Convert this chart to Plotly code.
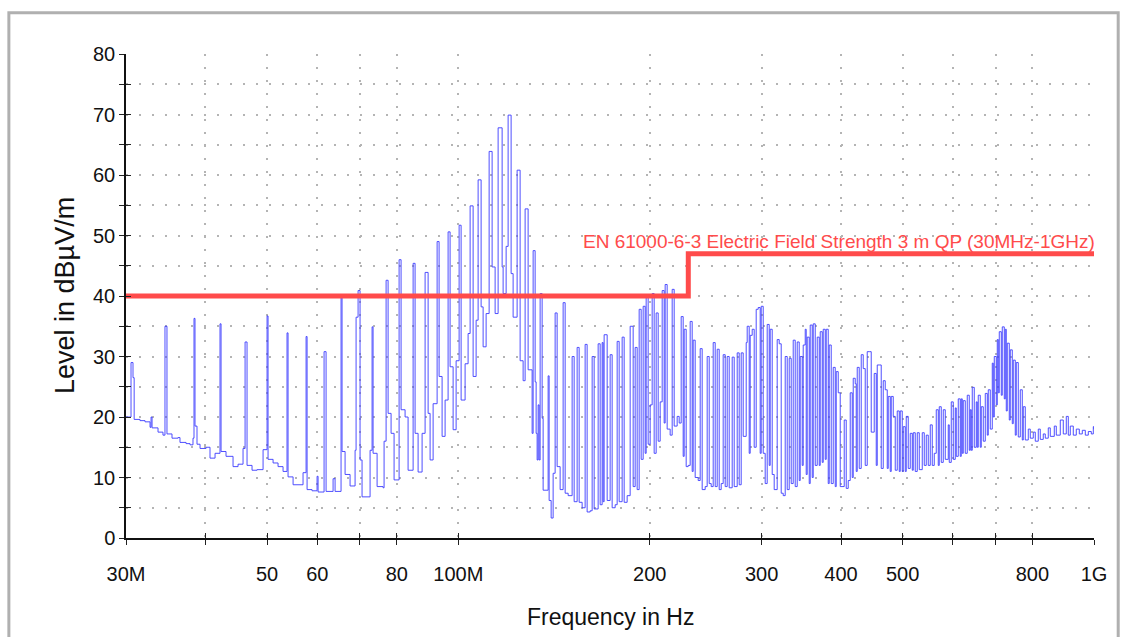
import plotly.graph_objects as go

scan_freq_a = [30.0, 30.55, 30.77, 30.9, 31.56, 32.14, 32.73, 32.85, 32.97, 33.69, 34.3, 34.55, 34.8,
               35.44, 36.22, 36.48, 37.29, 37.83, 38.24, 38.38, 38.52, 38.8, 39.23, 40.09, 40.67, 41.42,
               42.17, 42.33, 43.1, 44.21, 45.02, 45.84, 46.18, 46.51, 47.36, 48.23, 49.29, 50.01, 50.19,
               51.11, 52.04, 52.99, 53.76, 53.96, 54.95, 56.97, 57.6, 57.81, 58.86, 59.94, 60.16, 61.48,
               61.93, 63.52, 63.98, 65.38, 65.62, 66.34]
scan_level_a = [20.0, 29.0, 26.5, 19.6, 19.4, 19.2, 18.3, 20.0, 18.2, 17.5, 17.0, 35.0, 17.2,
                16.5, 16.6, 15.8, 15.6, 15.4, 16.5, 36.3, 18.5, 15.5, 14.8, 15.0, 13.2, 14.0,
                35.4, 14.3, 13.5, 11.8, 12.2, 14.8, 32.4, 12.0, 11.2, 11.3, 14.6, 36.7, 13.0,
                12.4, 11.8, 11.0, 33.9, 10.1, 8.8, 10.8, 33.3, 8.0, 7.8, 10.2, 7.6, 30.8,
                7.7, 9.8, 7.7, 39.9, 14.3, 10.5]

scan_freq_b = [67.55, 68.79, 69.04, 69.54, 70.04, 70.55, 71.84, 72.63, 73.16, 73.42, 74.5, 76.13, 76.41,
               76.97, 77.53, 78.37, 79.23, 80.68, 81.26, 82.45, 83.35, 84.88, 85.49, 86.43, 87.69, 88.65,
               89.62, 90.27, 91.26, 92.59, 93.26, 94.28, 95.31, 96.35, 97.05, 98.12, 99.19, 100.27, 101.0,
               102.47, 103.59, 104.35, 105.49, 106.64, 107.42, 108.59, 109.38, 110.58, 111.79, 113.01,
               114.24, 115.49, 117.18, 117.6, 118.89, 119.75, 121.06, 121.94, 123.72, 125.07, 126.44,
               127.36, 128.75, 130.63, 131.11, 132.06, 132.54, 133.02, 133.51, 133.99, 134.48, 135.45,
               135.95, 138.43, 138.93, 139.95, 140.96, 141.99, 143.02, 144.58]
scan_level_b = [8.6, 14.5, 36.5, 40.9, 12.9, 6.8, 6.8, 14.5, 34.9, 14.0, 8.5, 8.3, 16.0,
                42.6, 20.6, 17.3, 9.6, 46.0, 21.2, 20.0, 11.2, 45.4, 17.3, 10.9, 17.3, 43.9,
                20.6, 12.9, 22.2, 49.0, 26.7, 16.8, 22.8, 50.6, 28.3, 17.9, 29.3, 51.7, 22.8,
                28.8, 33.8, 54.9, 26.7, 36.0, 59.2, 38.2, 31.6, 37.1, 63.9, 44.8,
                37.1, 67.8, 44.8, 40.4, 48.2, 69.9, 43.7, 36.5, 60.8, 29.3, 26.0,
                54.4, 27.8, 17.3, 47.5, 25.8, 17.3, 12.9, 22.0, 12.9, 40.4, 19.8,
                7.9, 26.8, 6.2, 3.3, 10.7, 37.2, 11.8, 8.0]

scan_freq_c = [146.16, 147.23, 148.84, 151.01, 152.11, 153.77, 154.89, 156.58, 158.29, 159.44, 161.19,
               162.36, 163.54, 165.93, 167.14, 168.35, 168.96, 169.57, 171.43, 173.3, 174.56, 176.47,
               177.76, 179.05, 181.0, 182.32, 184.31, 186.33, 188.37, 189.73, 191.11, 192.51, 193.91,
               195.32, 196.74, 197.45, 198.89, 200.33, 201.79, 203.26, 204.74, 206.23, 207.73, 209.24,
               210.76, 211.52, 213.06, 215.39, 216.96, 218.54, 220.92, 222.53, 224.15, 225.78, 226.6,
               228.25, 229.91, 231.58, 233.26, 234.11, 235.81, 238.39, 240.13, 241.87, 244.51, 246.29,
               248.09, 249.89, 251.71, 253.54, 255.38, 257.24, 259.11, 260.99, 262.89, 264.81, 266.73]
scan_level_c = [38.9, 7.4, 7.0, 30.0, 6.0, 31.5, 5.9, 5.0, 32.0, 4.3, 4.5,
                30.0, 4.8, 32.1, 5.5, 32.3, 6.0, 33.6, 6.2, 30.3, 5.0, 5.5,
                32.5, 6.0, 33.2, 5.9, 7.0, 35.0, 8.5, 31.5, 8.0, 37.8, 13.0,
                38.3, 14.0, 39.8, 15.5, 22.0, 40.4, 14.0, 37.2, 16.0, 22.5, 40.9,
                19.0, 41.9, 18.0, 17.0, 41.1, 18.5, 20.1, 19.0, 36.6, 13.5, 34.5,
                11.8, 12.0, 35.8, 11.0, 32.7, 10.0, 9.5, 31.3, 8.0, 8.5, 30.0,
                9.0, 8.5, 32.3, 8.5, 31.2, 8.0, 9.0, 30.3, 8.5, 30.0, 8.3]

scan_freq_d = [269.65, 271.61, 274.58, 276.58, 278.59, 280.61, 283.68, 284.71, 286.78, 287.82, 289.91,
               292.02, 294.15, 296.29, 298.44, 299.53, 301.71, 303.9, 306.11, 308.34, 309.45, 311.71,
               313.97, 317.4, 319.71, 322.04, 324.38, 326.74, 329.12, 331.51, 333.92, 336.35, 338.8,
               341.26, 343.74, 344.99, 347.5, 348.76, 351.3, 352.57, 353.85, 356.43, 357.72, 360.32,
               361.63, 364.26, 366.91, 369.58, 370.92, 373.62, 374.97, 377.7, 379.07, 381.83, 383.22,
               386.01, 388.82, 391.64, 393.06, 395.92, 398.8, 404.62, 407.57, 410.53, 413.52, 416.52,
               418.04, 421.07, 422.6, 424.14, 427.22, 430.33, 433.46, 436.61, 439.79, 442.99, 446.21,
               451.08, 454.37, 456.02, 459.33, 462.67, 466.04, 469.42, 472.84, 474.56, 478.01, 479.75,
               483.24, 486.75, 490.29, 493.86, 495.65, 499.26, 501.07, 504.71, 506.54, 510.23, 513.94,
               517.68, 519.56, 523.33, 527.14]
scan_level_d = [29.9, 8.5, 30.6, 8.8, 30.6, 16.8, 32.3, 35.0, 14.0, 33.5, 34.5,
                15.0, 37.8, 38.1, 14.0, 38.3, 14.0, 9.0, 35.3, 12.0, 34.5, 10.5,
                8.0, 32.8, 32.1, 7.4, 7.0, 30.0, 8.0, 29.7, 9.0, 32.7, 8.5,
                32.4, 9.5, 30.0, 12.0, 31.9, 34.5, 10.5, 33.2, 9.0, 35.2, 10.0,
                35.4, 12.0, 33.2, 12.0, 34.1, 12.5, 34.5, 13.0, 34.5, 9.0, 31.9,
                9.0, 28.2, 8.5, 27.5, 24.0, 8.5, 19.5, 8.2, 9.5, 24.0, 10.0,
                26.4, 25.5, 11.0, 28.2, 11.5, 30.3, 28.0, 12.0, 30.8, 30.8, 17.5,
                27.2, 12.0, 28.6, 28.6, 11.5, 26.0, 24.5, 11.5, 23.4, 11.0, 23.4,
                20.1, 11.2, 21.0, 11.0, 21.0, 11.0, 18.4, 11.0, 20.1, 11.5, 17.3,
                11.2, 17.4, 11.0, 17.4]

scan_freq_e = [530.98, 536.78, 540.68, 544.62, 548.58, 552.57, 556.59, 560.63, 564.71, 568.82, 570.89,
               575.04, 579.22, 583.43, 589.81, 591.95, 596.26, 600.59, 604.96, 607.16, 611.57, 616.02,
               618.26, 620.5, 622.76, 627.29, 631.85, 636.44, 638.76, 641.08, 643.4, 648.08, 652.79,
               655.16, 657.54, 662.33, 664.73, 669.57, 674.43, 679.34, 681.81, 686.76, 691.76, 694.27,
               696.79, 701.86, 704.41, 706.96, 709.53, 714.69, 717.29, 722.5, 725.13, 727.76, 730.4,
               735.71, 738.38, 743.75, 746.46, 751.88, 754.61, 760.1, 765.62, 771.19, 773.99, 779.62,
               788.15, 793.88, 802.55, 808.39, 817.23, 823.17, 832.17, 838.22, 847.38, 853.54, 866.02,
               872.31, 885.04, 894.72, 904.5, 911.08, 917.7, 927.74, 937.87, 948.13, 958.5, 968.97,
               979.55, 990.26, 997.47, 1000.0]
scan_level_e = [11.3, 17.4, 12.0, 17.0, 12.0, 18.7, 12.0, 14.0, 21.2, 12.0, 21.7,
                12.5, 21.2, 13.0, 18.7, 12.5, 22.5, 13.0, 21.5, 13.5, 23.0, 13.5,
                23.0, 14.0, 22.7, 14.0, 23.6, 14.5, 21.2, 14.5, 24.9, 15.0, 22.5,
                15.0, 23.6, 15.0, 21.7, 16.0, 23.9, 17.0, 24.5, 18.0, 28.9, 20.0,
                30.0, 22.0, 32.8, 24.0, 34.1, 23.6, 34.9, 23.0, 34.5, 21.0, 32.2,
                19.5, 31.1, 18.9, 29.4, 17.0, 29.0, 16.7, 24.5, 16.2, 21.7, 16.2,
                18.0, 16.5, 17.5, 16.0, 18.0, 16.3, 17.2, 16.5, 18.2, 16.8, 18.5,
                17.0, 19.5, 17.2, 20.1, 17.0, 18.5, 17.0, 18.0, 17.2, 17.8, 17.0,
                17.6, 17.2, 18.4, 18.0]

# ---- Limit line (EN 61000-6-3, 3 m QP) ----
limit_freq = [30, 230, 230, 1000]
limit_level = [40, 40, 47, 47]
limit_label = "EN 61000-6-3 Electric Field Strength 3 m QP (30MHz-1GHz)"

# ---- Axis ticks ----
x_tickvals = [30, 40, 50, 60, 70, 80, 100, 200, 300, 400, 500, 600, 700, 800, 1000]
x_ticktext = ["30M", "", "50", "60", "", "80", "100M", "200", "300", "400", "500", "", "", "800", "1G"]
y_tickvals = [0, 10, 20, 30, 40, 50, 60, 70, 80]

scan_freq = scan_freq_a + scan_freq_b + scan_freq_c + scan_freq_d + scan_freq_e
scan_level = scan_level_a + scan_level_b + scan_level_c + scan_level_d + scan_level_e

FONT = "Liberation Sans, Arial, sans-serif"
GRID = "#b4b4b4"
XR = [1.4771212547, 3.0]

fig = go.Figure()
fig.add_trace(go.Scatter(x=scan_freq, y=scan_level, mode="lines",
                         line=dict(color="rgba(60,60,255,0.9)", width=1, shape="hv"),
                         hoverinfo="skip", showlegend=False))
fig.add_trace(go.Scatter(x=limit_freq, y=limit_level, mode="lines", xaxis="x2", yaxis="y2",
                         line=dict(color="#ff4b4b", width=5), hoverinfo="skip", showlegend=False))

fig.update_layout(
    width=1126, height=637,
    margin=dict(l=126, r=32, t=54, b=99),
    paper_bgcolor="white", plot_bgcolor="white",
    font=dict(family=FONT, color="#111111", size=20),
    xaxis=dict(type="log", range=XR, tickvals=x_tickvals, ticktext=x_ticktext,
               ticks="outside", ticklen=5, tickcolor="#222", tickwidth=1,
               ticklabelstandoff=12,
               showline=True, linecolor="#111", linewidth=1.5, mirror=False,
               showgrid=True, gridcolor=GRID, gridwidth=1.5, griddash="2px,11px",
               zeroline=False, tickfont=dict(size=20, family=FONT)),
    xaxis2=dict(type="log", range=XR, overlaying="x", anchor="y2", side="bottom",
                tickvals=x_tickvals, ticks="inside", ticklen=5, tickcolor="#222",
                showticklabels=False, showgrid=False, showline=False, zeroline=False),
    yaxis=dict(range=[0, 80], tickvals=y_tickvals,
               ticks="outside", ticklen=5, tickcolor="#222", tickwidth=1,
               showline=True, linecolor="#111", linewidth=1.5,
               showgrid=True, gridcolor=GRID, gridwidth=1.5, griddash="2px,11px",
               zeroline=False, tickfont=dict(size=20, family=FONT),
               minor=dict(dtick=5, tick0=0, ticks="outside", ticklen=5, tickcolor="#222",
                          showgrid=True, gridcolor=GRID, gridwidth=1.5, griddash="2px,11px")),
    yaxis2=dict(range=[0, 80], overlaying="y", anchor="x2", side="left",
                tickvals=y_tickvals, ticks="inside", ticklen=5, tickcolor="#222",
                minor=dict(dtick=5, tick0=0, ticks="inside", ticklen=5, tickcolor="#222"),
                showticklabels=False, showgrid=False, showline=False, zeroline=False),
    annotations=[
        dict(text="Level in dBµV/m", xref="paper", yref="paper", x=-0.063, y=0.5,
             xanchor="center", yanchor="middle",
             textangle=-90, showarrow=False, font=dict(size=27, family=FONT, color="#111")),
        dict(text="Frequency in Hz", xref="paper", yref="paper", x=0.5, y=-0.163,
             xanchor="center", yanchor="middle",
             showarrow=False, font=dict(size=23, family=FONT, color="#111")),
        dict(text=limit_label, xref="paper", yref="y", x=1.0, y=47, xanchor="right",
             yanchor="bottom", yshift=1, xshift=2, borderpad=0, showarrow=False,
             font=dict(size=19, family=FONT, color="#ff4b4b")),
    ],
    shapes=[
        dict(type="rect", xref="paper", yref="paper", x0=-0.121, x1=1.025, y0=-0.3, y1=1.085,
             line=dict(color="#b0b0b0", width=3), fillcolor="rgba(0,0,0,0)", layer="below"),
    ],
)

fig.write_html("out.html")
